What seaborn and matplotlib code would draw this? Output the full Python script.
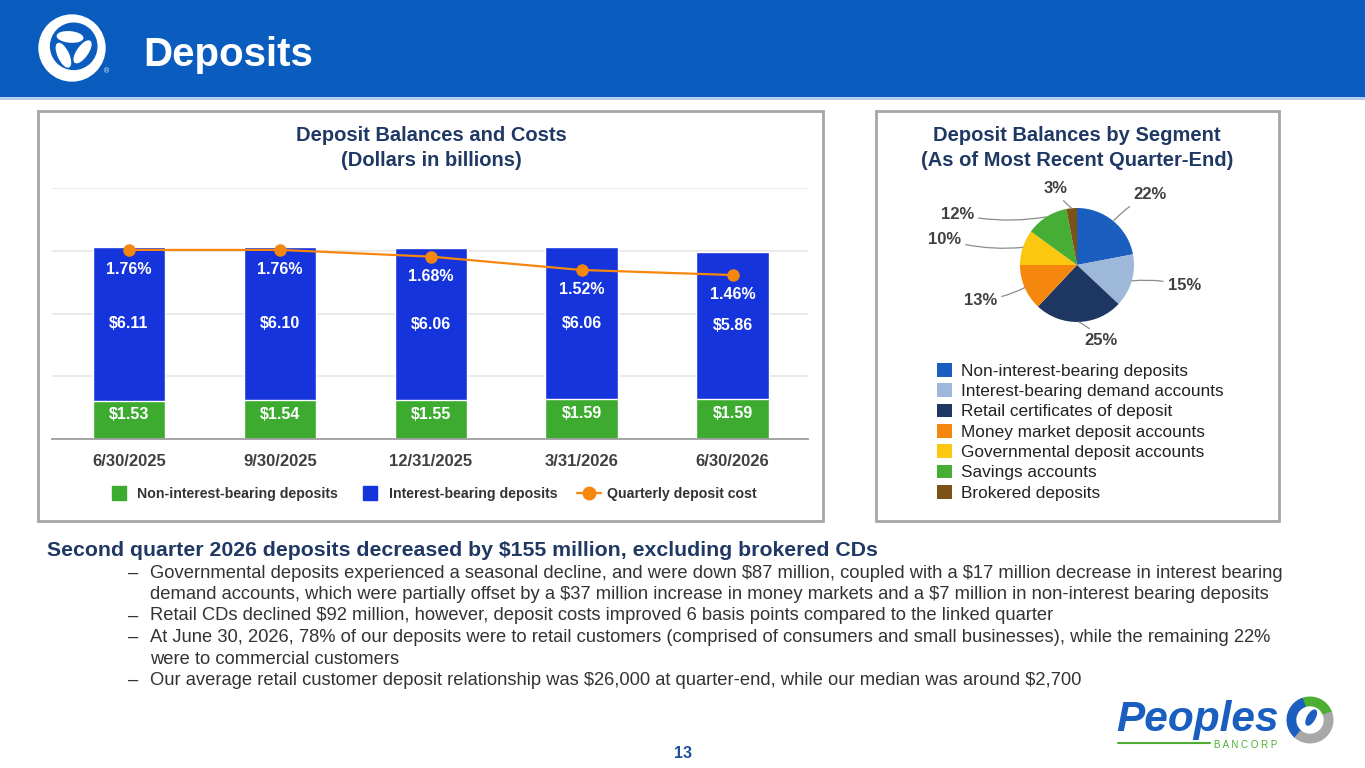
import numpy as np
import pandas as pd
import matplotlib
matplotlib.use("Agg")
import matplotlib.pyplot as plt
import matplotlib.patches as mpatches
from matplotlib.lines import Line2D
from matplotlib.legend_handler import HandlerPatch
import seaborn as sns

# ---- data ----
dates = ['6/30/2025', '9/30/2025', '12/31/2025', '3/31/2026', '6/30/2026']
non_interest = [1.53, 1.54, 1.55, 1.59, 1.59]
interest = [6.11, 6.10, 6.06, 6.06, 5.86]
deposit_cost = [1.76, 1.76, 1.68, 1.52, 1.46]

segments = ['Non-interest-bearing deposits', 'Interest-bearing demand accounts',
            'Retail certificates of deposit', 'Money market deposit accounts',
            'Governmental deposit accounts', 'Savings accounts', 'Brokered deposits']
segment_share = [22, 15, 25, 13, 10, 12, 3]

headline = 'Second quarter 2026 deposits decreased by $155 million, excluding brokered CDs'
bullets = [
    ['Governmental deposits experienced a seasonal decline, and were down $87 million, coupled with a $17 million decrease in interest bearing',
     'demand accounts, which were partially offset by a $37 million increase in money markets and a $7 million in non-interest bearing deposits'],
    ['Retail CDs declined $92 million, however, deposit costs improved 6 basis points compared to the linked quarter'],
    ['At June 30, 2026, 78% of our deposits were to retail customers (comprised of consumers and small businesses), while the remaining 22%',
     'were to commercial customers'],
    ['Our average retail customer deposit relationship was $26,000 at quarter-end, while our median was around $2,700'],
]

# ---- style ----
sns.set_theme(style='white')
plt.rcParams['font.family'] = ['Liberation Sans', 'DejaVu Sans']

GREEN = '#3dab2f'
BLUE = '#1534dc'
ORANGE = '#f5870f'
NAVY = '#1f3864'
GREY_TXT = '#404040'
pie_colors = ['#1a5fc0', '#9db8d8', '#1d3762', '#f5870f', '#fcc70f', '#46ae34', '#7c5316']

W, H = 1365, 768
fig = plt.figure(figsize=(W / 100, H / 100), dpi=100)


def fx(x):
    return x / W


def fy(y):
    return 1 - y / H


def rect(x0, y0, x1, y1, **kw):
    p = mpatches.Rectangle((fx(x0), fy(y1)), (x1 - x0) / W, (y1 - y0) / H,
                           transform=fig.transFigure, **kw)
    fig.patches.append(p)
    return p


# header band (drawn below the axes)
rect(0, 0, W, 97, facecolor='#0a5cbe', edgecolor='none', zorder=-2)
rect(0, 97, W, 100, facecolor='#b3cdec', edgecolor='none', zorder=-2)
fig.text(fx(143), fy(55), 'Deposits', color='white', fontsize=29, fontweight='bold',
         va='center', ha='left')

# header emblem (rough)
logo = fig.add_axes([fx(38), fy(82), 68 / W, 68 / H])
logo.set_xlim(-1, 1)
logo.set_ylim(-1, 1)
logo.axis('off')
logo.add_patch(mpatches.Circle((0, 0), 0.97, color='white'))
logo.add_patch(mpatches.Circle((0.05, 0.05), 0.68, color='#0a5cbe'))
for ang in [100, 220, 340]:
    t = np.deg2rad(ang)
    logo.add_patch(mpatches.Ellipse((0.33 * np.cos(t), 0.33 * np.sin(t)), 0.75, 0.3,
                                    angle=ang + 75, color='white'))
fig.text(fx(106), fy(72), '®', color='white', fontsize=5, ha='center', va='center')

# panel frames
rect(38, 111, 823, 521, fill=False, edgecolor='#a6a6a6', linewidth=2)
rect(876, 111, 1279, 521, fill=False, edgecolor='#a6a6a6', linewidth=2)

fig.text(fx(431), fy(148), 'Deposit Balances and Costs\n(Dollars in billions)', color=NAVY,
         fontsize=14.5, fontweight='bold', ha='center', va='center', linespacing=1.45)
fig.text(fx(1077), fy(148), 'Deposit Balances by Segment\n(As of Most Recent Quarter-End)',
         color=NAVY, fontsize=14.5, fontweight='bold', ha='center', va='center', linespacing=1.45)

# ---- bar chart ----
df = pd.DataFrame({'date': dates, 'non_interest': non_interest, 'interest': interest,
                   'cost': deposit_cost})
df['total'] = df['non_interest'] + df['interest']

ax = fig.add_axes([fx(52), fy(439), (808 - 52) / W, (439 - 188) / H])
sns.barplot(data=df, x='date', y='total', color=BLUE, width=0.48, saturation=1, ax=ax)
sns.barplot(data=df, x='date', y='non_interest', color=GREEN, width=0.48, saturation=1, ax=ax)

ax2 = ax.twinx()
xs = np.arange(len(dates))
sns.lineplot(x=xs, y=deposit_cost, ax=ax2, color=ORANGE, linewidth=1.6, marker='o',
             markersize=9, markeredgewidth=0)
ax2.set_ylim(-0.5, 2.5)
ax2.set_xlim(-0.51, 4.5)
ax2.axis('off')

ax.set_xlim(-0.51, 4.5)
ax.set_ylim(0, 10)
ax.set_yticks([2.5, 5, 7.5, 10])
ax.yaxis.grid(True, color='#e6e6e6', linewidth=1.2)
ax.set_axisbelow(True)
ax.tick_params(axis='y', left=False, right=False, labelleft=False)
ax.tick_params(axis='x', length=0, pad=11, labelsize=12, labelcolor=GREY_TXT)
for lbl in ax.get_xticklabels():
    lbl.set_fontweight('bold')
ax.set_xlabel('')
ax.set_ylabel('')
for s in ['top', 'right', 'left']:
    ax.spines[s].set_visible(False)
ax.spines['bottom'].set_color('#9e9e9e')
ax.spines['bottom'].set_linewidth(1.3)

for i in xs:
    ax.text(i, non_interest[i] / 2 + 0.22, f'\\${non_interest[i]:.2f}', color='white',
            fontsize=11.5, fontweight='bold', ha='center', va='center')
    ax.text(i, non_interest[i] + interest[i] / 2, f'\\${interest[i]:.2f}', color='white',
            fontsize=11.5, fontweight='bold', ha='center', va='center')
    ax2.annotate(f'{deposit_cost[i]:.2f}%', (i, deposit_cost[i]), xytext=(0, -14),
                 textcoords='offset points', color='white', fontsize=11.5, fontweight='bold',
                 ha='center', va='center')


def square_patch(legend, orig_handle, xdescent, ydescent, width, height, fontsize):
    s = fontsize * 1.0
    return mpatches.Rectangle((-xdescent + (width - s) / 2, -ydescent + (height - s) / 2), s, s)


bar_handles = [mpatches.Patch(color=GREEN), mpatches.Patch(color=BLUE),
               Line2D([], [], color=ORANGE, linewidth=1.6, marker='o', markersize=9)]
leg = fig.legend(bar_handles, ['Non-interest-bearing deposits', 'Interest-bearing deposits',
                               'Quarterly deposit cost'],
                 loc='center', bbox_to_anchor=(fx(432), fy(494)), ncol=3, frameon=False,
                 prop={'weight': 'bold', 'size': 10.2}, handlelength=1.7, handletextpad=0.45,
                 columnspacing=1.4, borderpad=0,
                 handler_map={mpatches.Patch: HandlerPatch(patch_func=square_patch)})
for t in leg.get_texts():
    t.set_color('#333333')

# ---- pie chart ----
R = 57
side = 300
axp = fig.add_axes([fx(1077 - side / 2), fy(265 + side / 2), side / W, side / H])
wedges, _ = axp.pie(segment_share, colors=pie_colors, startangle=90, counterclock=False,
                    radius=1, wedgeprops={'linewidth': 0})
lim = side / 2 / R
axp.set_xlim(-lim, lim)
axp.set_ylim(-lim, lim)
axp.set_aspect('equal')
axp.axis('off')

# label placement (angle deg, distance in radii) - layout only
label_pos = [(44, 1.77), (-11, 1.92), (-72, 1.39), (-160, 1.8), (169, 2.37), (157, 2.28), (106, 1.39)]
for w, val, (ang, dist) in zip(wedges, segment_share, label_pos):
    mid = np.deg2rad((w.theta1 + w.theta2) / 2)
    t = np.deg2rad(ang)
    axp.annotate(f'{val}%', xy=(np.cos(mid), np.sin(mid)),
                 xytext=(dist * np.cos(t), dist * np.sin(t)),
                 fontsize=12, fontweight='bold', color=GREY_TXT, ha='center', va='center',
                 arrowprops=dict(arrowstyle='-', color='#8c8c8c', linewidth=0.9,
                                 shrinkA=1, shrinkB=0, connectionstyle='arc3,rad=0.1'))

pleg = axp.legend(wedges, segments, loc='upper left', bbox_to_anchor=(fx(937), fy(363)),
                  bbox_transform=fig.transFigure, frameon=False, borderpad=0, borderaxespad=0,
                  fontsize=12.4, handlelength=0.85, handleheight=0.85, handletextpad=0.55,
                  labelspacing=0.26)
for t in pleg.get_texts():
    t.set_color('#222222')

# ---- commentary ----
fig.text(fx(47), fy(550), headline, color=NAVY, fontsize=15.3, fontweight='bold',
         ha='left', va='center', parse_math=False)
y = 573
for lines in bullets:
    fig.text(fx(128), fy(y), '–', color='#333333', fontsize=13.2, ha='left', va='center')
    for ln in lines:
        fig.text(fx(150), fy(y), ln, color='#333333', fontsize=13.2, ha='left', va='center',
                 parse_math=False)
        y += 21.5

# footer
fig.text(fx(683), fy(753), '13', color='#1f4e9c', fontsize=11.5, fontweight='bold',
         ha='center', va='center')

fig.text(fx(1116), fy(720), 'Peoples', color='#1a5fc0', fontsize=30.5, fontweight='bold',
         style='italic', ha='left', va='center')
fig.lines.append(Line2D([fx(1118), fx(1210)], [fy(743), fy(743)], transform=fig.transFigure,
                        color='#4caf32', linewidth=1.5))
fig.text(fx(1246), fy(745), 'B A N C O R P', color='#4caf32', fontsize=7, ha='center', va='center')
emb = fig.add_axes([fx(1286), fy(744), 48 / W, 48 / H])
emb.set_xlim(-1, 1)
emb.set_ylim(-1, 1)
emb.axis('off')
emb.add_patch(mpatches.Wedge((0, 0), 0.95, 20, 110, width=0.35, color='#4caf32'))
emb.add_patch(mpatches.Wedge((0, 0), 0.95, 110, 230, width=0.35, color='#1a5fc0'))
emb.add_patch(mpatches.Wedge((0, 0), 0.95, 230, 380, width=0.35, color='#a8a8a8'))
emb.add_patch(mpatches.Ellipse((0.05, 0.1), 0.7, 0.3, angle=60, color='#1a5fc0'))

fig.savefig('out.png', dpi=100)
